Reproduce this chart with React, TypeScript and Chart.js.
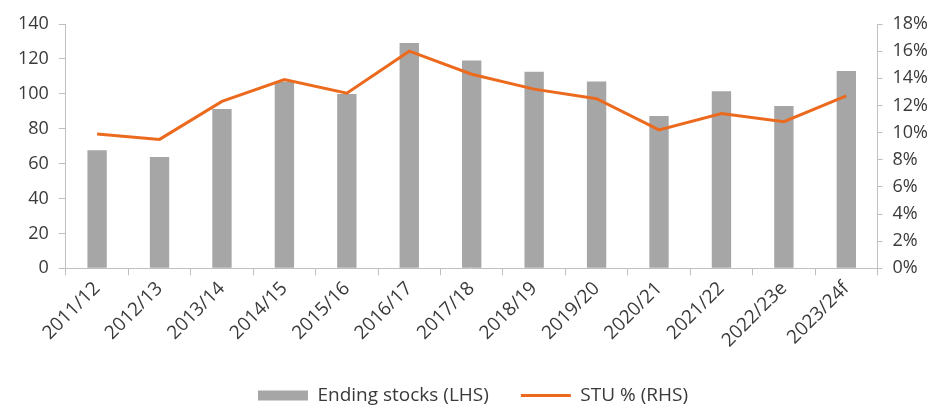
import React, { useEffect, useRef } from "react";
import { Chart, registerables } from "chart.js";

Chart.register(...registerables);

const categories = ["2011/12", "2012/13", "2013/14", "2014/15", "2015/16", "2016/17", "2017/18", "2018/19", "2019/20", "2020/21", "2021/22", "2022/23e", "2023/24f"];
const endingStocks = [67.7, 63.8, 91.3, 107, 99.9, 129.1, 119.1, 112.6, 107, 87.3, 101.4, 93, 113];
const stuPercent = [9.9, 9.5, 12.3, 13.9, 12.9, 16.0, 14.3, 13.2, 12.5, 10.2, 11.4, 10.8, 12.7];
const leftTicks = [0, 20, 40, 60, 80, 100, 120, 140];
const rightTicks = [0, 2, 4, 6, 8, 10, 12, 14, 16, 18];

const GREY = "#a6a6a6";
const ORANGE = "#ec6a1e";
const AXIS = "#bfbfbf";
const TEXT = "#3a3a3a";
const FONT = "'Open Sans', 'Noto Sans', sans-serif";

export default function App() {
  const ref = useRef<HTMLCanvasElement | null>(null);
  useEffect(() => {
    if (!ref.current) return;
    const chart = new Chart(ref.current, {
      type: "bar",
      data: {
        labels: categories,
        datasets: [
          {
            type: "line",
            label: "STU % (RHS)",
            data: stuPercent,
            yAxisID: "y1",
            borderColor: ORANGE,
            backgroundColor: ORANGE,
            borderWidth: 3,
            pointRadius: 0,
            tension: 0,
            order: 0,
          },
          {
            type: "bar",
            label: "Ending stocks (LHS)",
            data: endingStocks,
            yAxisID: "y",
            backgroundColor: GREY,
            barPercentage: 0.31,
            categoryPercentage: 1,
            order: 1,
          },
        ],
      },
      options: {
        animation: false,
        responsive: true,
        maintainAspectRatio: false,
        layout: { padding: { top: 24, left: 8, right: 6, bottom: -10 } },
        plugins: {
          tooltip: { enabled: false },
          legend: {
            position: "bottom",
            labels: {
              usePointStyle: true,
              pointStyleWidth: 50,
              boxHeight: 10,
              padding: 32,
              color: TEXT,
              font: { family: FONT, size: 19 },
              generateLabels: () => [
                { text: "Ending stocks (LHS)", fillStyle: GREY, strokeStyle: GREY, lineWidth: 0, pointStyle: "rect", hidden: false, datasetIndex: 1, fontColor: TEXT },
                { text: "STU % (RHS)", fillStyle: ORANGE, strokeStyle: ORANGE, lineWidth: 3, pointStyle: "line", hidden: false, datasetIndex: 0, fontColor: TEXT },
              ],
            },
          },
        },
        scales: {
          x: {
            offset: true,
            grid: { display: true, offset: true, drawOnChartArea: false, drawTicks: true, tickLength: 7, color: AXIS },
            border: { display: true, color: AXIS, width: 1 },
            ticks: { color: TEXT, font: { family: FONT, size: 19 }, minRotation: 45, maxRotation: 45, padding: 2, autoSkip: false },
          },
          y: {
            position: "left",
            min: 0,
            max: 140,
            afterBuildTicks: (axis: any) => { axis.ticks = leftTicks.map((v) => ({ value: v })); },
            grid: { display: true, drawOnChartArea: false, drawTicks: true, tickLength: 7, color: AXIS },
            border: { display: true, color: AXIS, width: 1 },
            ticks: { color: TEXT, font: { family: FONT, size: 18 }, padding: 10 },
          },
          y1: {
            position: "right",
            min: 0,
            max: 18,
            afterBuildTicks: (axis: any) => { axis.ticks = rightTicks.map((v) => ({ value: v })); },
            grid: { display: true, drawOnChartArea: false, drawTicks: true, tickLength: 5, color: AXIS },
            border: { display: true, color: AXIS, width: 1 },
            ticks: { color: TEXT, font: { family: FONT, size: 18 }, padding: 10, callback: (v: any) => v + "%" },
          },
        },
      },
    });
    return () => chart.destroy();
  }, []);
  return (
    <div style={{ position: "fixed", left: 0, top: 0, width: 944, height: 405, background: "#fff" }}>
      <canvas ref={ref} />
    </div>
  );
}
